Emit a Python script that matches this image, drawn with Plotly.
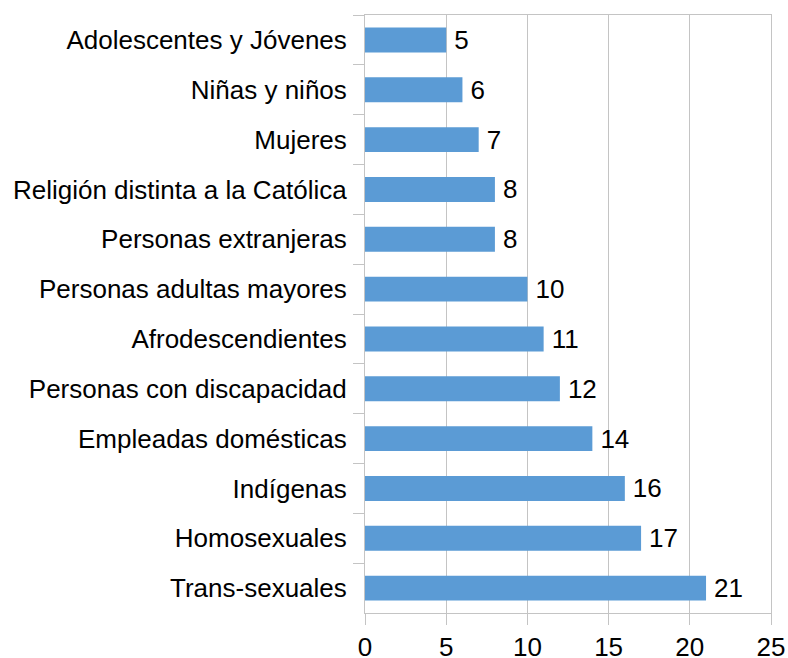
import plotly.graph_objects as go

categories = ["Adolescentes y Jóvenes", "Niñas y niños", "Mujeres",
              "Religión distinta a la Católica", "Personas extranjeras",
              "Personas adultas mayores", "Afrodescendientes",
              "Personas con discapacidad", "Empleadas domésticas",
              "Indígenas", "Homosexuales", "Trans-sexuales"]
values = [5, 6, 7, 8, 8, 10, 11, 12, 14, 16, 17, 21]
x_ticks = [0, 5, 10, 15, 20, 25]

FONT = "Liberation Sans, Arial, sans-serif"
GRID = "#c4c4c4"
FS = 26

fig = go.Figure(go.Bar(
    y=categories, x=values, orientation="h",
    marker=dict(color="#5b9bd5", line=dict(width=0)),
    text=["<span style='font-size:18px'> </span>" + str(v) for v in values],
    textposition="outside",
    textfont=dict(family=FONT, size=FS, color="#000000"),
    cliponaxis=False,
))

fig.update_layout(
    width=788, height=658,
    margin=dict(l=365, r=17, t=15, b=45, autoexpand=False),
    paper_bgcolor="white", plot_bgcolor="white",
    bargap=0.5, showlegend=False,
    font=dict(family=FONT, size=FS, color="#000000"),
    uniformtext=dict(minsize=FS, mode="show"),
)
fig.update_xaxes(
    range=[0, 25], tickvals=x_ticks, ticktext=[str(t) for t in x_ticks],
    showgrid=True, gridcolor=GRID, gridwidth=1,
    showline=True, linecolor=GRID, linewidth=1, mirror=True,
    ticks="outside", ticklen=11, tickcolor=GRID, zeroline=False,
    tickfont=dict(family=FONT, size=FS, color="#000000"),
    automargin=False,
)
fig.update_yaxes(
    autorange="reversed", type="category",
    showline=True, linecolor=GRID, linewidth=1, mirror=True,
    ticks="outside", ticklen=11, tickcolor=GRID, tickson="boundaries",
    showgrid=False, ticklabelstandoff=12, automargin=False,
    tickfont=dict(family=FONT, size=FS, color="#000000"),
)

fig.write_html(
    "out.html",
    config={"displayModeBar": False},
    post_script="document.body.style.margin='0';document.body.style.overflow='hidden';",
)
